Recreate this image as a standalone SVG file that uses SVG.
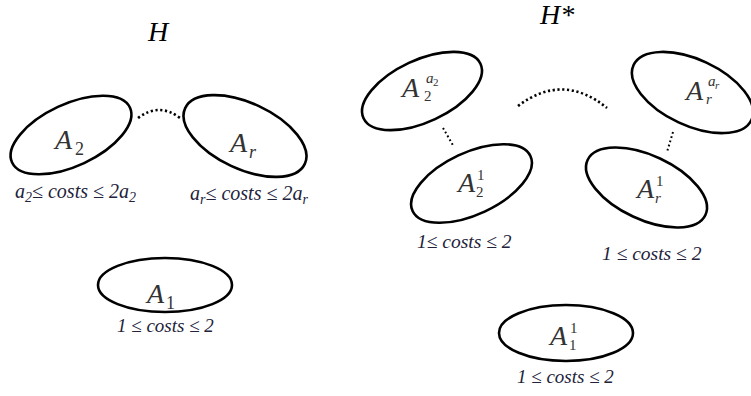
<svg xmlns="http://www.w3.org/2000/svg" width="751" height="396" viewBox="0 0 751 396">
<rect width="751" height="396" fill="#fff"/>
<text x="148" y="41" style="font-family:'Liberation Serif',serif !important;font-size:28px;font-style:italic;fill:#000">H</text>
<text x="540" y="24" style="font-family:'Liberation Serif',serif !important;font-size:28px;font-style:italic;fill:#000">H*</text>

<g id="connectors" fill="none" stroke="#000">
<path stroke-width="2.6" stroke-dasharray="2.2 2.6" d="M138,118 Q159,102 180,118"/>
<path stroke-width="2.6" stroke-dasharray="2.2 2.6" d="M518,106 Q563,72 607,108"/>
<path stroke-width="2" stroke-dasharray="1.8 2.6" d="M443,128 L454,147"/>
<path stroke-width="2" stroke-dasharray="1.8 2.6" d="M673,132 L667,152"/>
</g>

<g id="A2">
<ellipse fill="none" stroke="#000" stroke-width="2.6" cx="71" cy="135" rx="65" ry="31" transform="rotate(-25 71 135)"/>
<text x="55" y="149" style="font-family:'Liberation Serif',serif !important;font-size:28px;font-style:italic;fill:#333">A</text>
<text x="75" y="155" style="font-family:'Liberation Serif',serif !important;font-size:18px;fill:#333">2</text>
<text x="15" y="198" style="font-family:'Liberation Serif',serif !important;font-size:20px;font-style:italic;fill:#22223a">a<tspan font-size="14" dy="4">2</tspan><tspan dy="-4">≤ costs ≤ 2a</tspan><tspan font-size="14" dy="4">2</tspan></text>
</g>

<g id="Ar">
<ellipse fill="none" stroke="#000" stroke-width="2.6" cx="245" cy="136" rx="66" ry="33" transform="rotate(25 245 136)"/>
<text x="230" y="152" style="font-family:'Liberation Serif',serif !important;font-size:28px;font-style:italic;fill:#333">A</text>
<text x="249" y="158" style="font-family:'Liberation Serif',serif !important;font-size:18px;font-style:italic;fill:#333">r</text>
<text x="190" y="200" style="font-family:'Liberation Serif',serif !important;font-size:20px;font-style:italic;fill:#22223a">a<tspan font-size="14" dy="4">r</tspan><tspan dy="-4">≤ costs ≤ 2a</tspan><tspan font-size="14" dy="4">r</tspan></text>
</g>

<g id="A1">
<ellipse fill="none" stroke="#000" stroke-width="2.6" cx="165" cy="285" rx="67" ry="27"/>
<text x="147" y="303" style="font-family:'Liberation Serif',serif !important;font-size:28px;font-style:italic;fill:#333">A</text>
<text x="166" y="309" style="font-family:'Liberation Serif',serif !important;font-size:18px;fill:#333">1</text>
<text x="117" y="332" style="font-family:'Liberation Serif',serif !important;font-size:19px;font-style:italic;fill:#22223a">1 ≤ costs ≤ 2</text>
</g>

<g id="A2a2">
<ellipse fill="none" stroke="#000" stroke-width="2.6" cx="422" cy="91" rx="64.5" ry="31" transform="rotate(-25 422 91)"/>
<text x="402" y="97" style="font-family:'Liberation Serif',serif !important;font-size:28px;font-style:italic;fill:#333">A</text>
<text x="426" y="83" style="font-family:'Liberation Serif',serif !important;font-size:15px;font-style:italic;fill:#333">a</text>
<text x="433" y="86" style="font-family:'Liberation Serif',serif !important;font-size:11px;fill:#333">2</text>
<text x="424" y="101" style="font-family:'Liberation Serif',serif !important;font-size:15px;fill:#333">2</text>
</g>

<g id="Arar">
<ellipse fill="none" stroke="#000" stroke-width="2.6" cx="692.5" cy="92.5" rx="65" ry="33" transform="rotate(25 692.5 92.5)"/>
<text x="686" y="100" style="font-family:'Liberation Serif',serif !important;font-size:28px;font-style:italic;fill:#333">A</text>
<text x="708" y="86" style="font-family:'Liberation Serif',serif !important;font-size:15px;font-style:italic;fill:#333">a</text>
<text x="715" y="89" style="font-family:'Liberation Serif',serif !important;font-size:11px;font-style:italic;fill:#333">r</text>
<text x="706" y="104" style="font-family:'Liberation Serif',serif !important;font-size:15px;font-style:italic;fill:#333">r</text>
</g>

<g id="A21">
<ellipse fill="none" stroke="#000" stroke-width="2.6" cx="471.5" cy="183.5" rx="65" ry="31" transform="rotate(-25 471.5 183.5)"/>
<text x="458" y="192" style="font-family:'Liberation Serif',serif !important;font-size:28px;font-style:italic;fill:#333">A</text>
<text x="477" y="180" style="font-family:'Liberation Serif',serif !important;font-size:15px;fill:#333">1</text>
<text x="476" y="197" style="font-family:'Liberation Serif',serif !important;font-size:15px;fill:#333">2</text>
<text x="417" y="248" style="font-family:'Liberation Serif',serif !important;font-size:19.5px;font-style:italic;fill:#22223a">1≤ costs ≤ 2</text>
</g>

<g id="Ar1">
<ellipse fill="none" stroke="#000" stroke-width="2.6" cx="646.5" cy="187.5" rx="65" ry="32" transform="rotate(25 646.5 187.5)"/>
<text x="637" y="198" style="font-family:'Liberation Serif',serif !important;font-size:28px;font-style:italic;fill:#333">A</text>
<text x="656" y="186" style="font-family:'Liberation Serif',serif !important;font-size:15px;fill:#333">1</text>
<text x="655" y="203" style="font-family:'Liberation Serif',serif !important;font-size:15px;font-style:italic;fill:#333">r</text>
<text x="602" y="260" style="font-family:'Liberation Serif',serif !important;font-size:19.5px;font-style:italic;fill:#22223a">1 ≤ costs ≤ 2</text>
</g>

<g id="A11">
<ellipse fill="none" stroke="#000" stroke-width="2.6" cx="566" cy="333" rx="67" ry="28"/>
<text x="550" y="345" style="font-family:'Liberation Serif',serif !important;font-size:28px;font-style:italic;fill:#333">A</text>
<text x="570" y="333" style="font-family:'Liberation Serif',serif !important;font-size:15px;fill:#333">1</text>
<text x="569" y="350" style="font-family:'Liberation Serif',serif !important;font-size:15px;fill:#333">1</text>
<text x="517" y="383" style="font-family:'Liberation Serif',serif !important;font-size:19px;font-style:italic;fill:#22223a">1 ≤ costs ≤ 2</text>
</g>
</svg>
